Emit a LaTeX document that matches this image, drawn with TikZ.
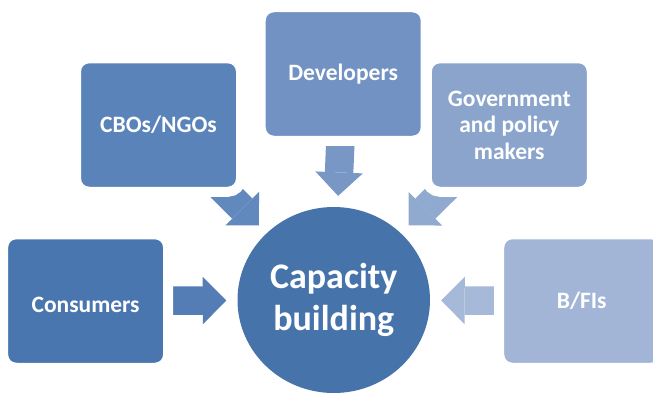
\documentclass[tikz,border=0pt]{standalone}
\usepackage{fontspec}
\setmainfont{Carlito}
\usetikzlibrary{arrows.meta,shapes.geometric,backgrounds}

\definecolor{hubblue}{HTML}{4674AA}
\definecolor{consblue}{HTML}{4A76B0}
\definecolor{cboblue}{HTML}{5A83BA}
\definecolor{devblue}{HTML}{7192C2}
\definecolor{govblue}{HTML}{8AA4CC}
\definecolor{bfiblue}{HTML}{A2B5D6}

\begin{document}
\begin{tikzpicture}[
    x=1pt, y=1pt,
    arrow/.style={line width=28.5pt, shorten >=11pt,
      -{Triangle[length=23.5pt 0 0, width=47.5pt 0 0, line width=0pt]}},
    block/.style={draw=white, line width=10pt, rounded corners=13pt,
      minimum width=165pt, minimum height=133.5pt, text=white, align=center,
      font=\bfseries\fontsize{23.5}{26.5}\selectfont},
    hub/.style={ellipse, fill=hubblue, inner sep=0pt, minimum width=192.5pt,
      minimum height=186pt, text=white, align=center,
      font=\bfseries\fontsize{36}{42}\selectfont},
  ]
  \useasboundingbox (0,0) rectangle (653,392);

  \node[hub] (hub) at (333.75,92) {Capacity\\building};

  \node[block, fill=consblue, text height=23pt] (cons) at (85.6,91) {Consumers};
  \node[block, fill=cboblue] (cbo) at (158.5,267) {CBOs/NGOs};
  \node[block, fill=devblue] (dev) at (343.2,318) {Developers};
  \node[block, fill=govblue] (gov) at (509.3,267) {Government\\and policy\\makers};
  \node[block, fill=bfiblue] (bfi) at (581.7,91) {B/FIs};

  % arrows sit behind the boxes
  \begin{scope}[on background layer]
    \draw[arrow, consblue!95!white, shorten <=82pt] (cons.center) -- (hub);
    \draw[arrow, cboblue!95!white, shorten <=84pt] (cbo.center) -- (hub);
    \draw[arrow, devblue!95!white, shorten <=65pt] (dev.center) -- (hub);
    \draw[arrow, govblue!95!white, shorten <=84pt] (gov.center) -- (hub);
    \draw[arrow, bfiblue!95!white, shorten <=82pt] (bfi.center) -- (hub);
  \end{scope}
\end{tikzpicture}
\end{document}
